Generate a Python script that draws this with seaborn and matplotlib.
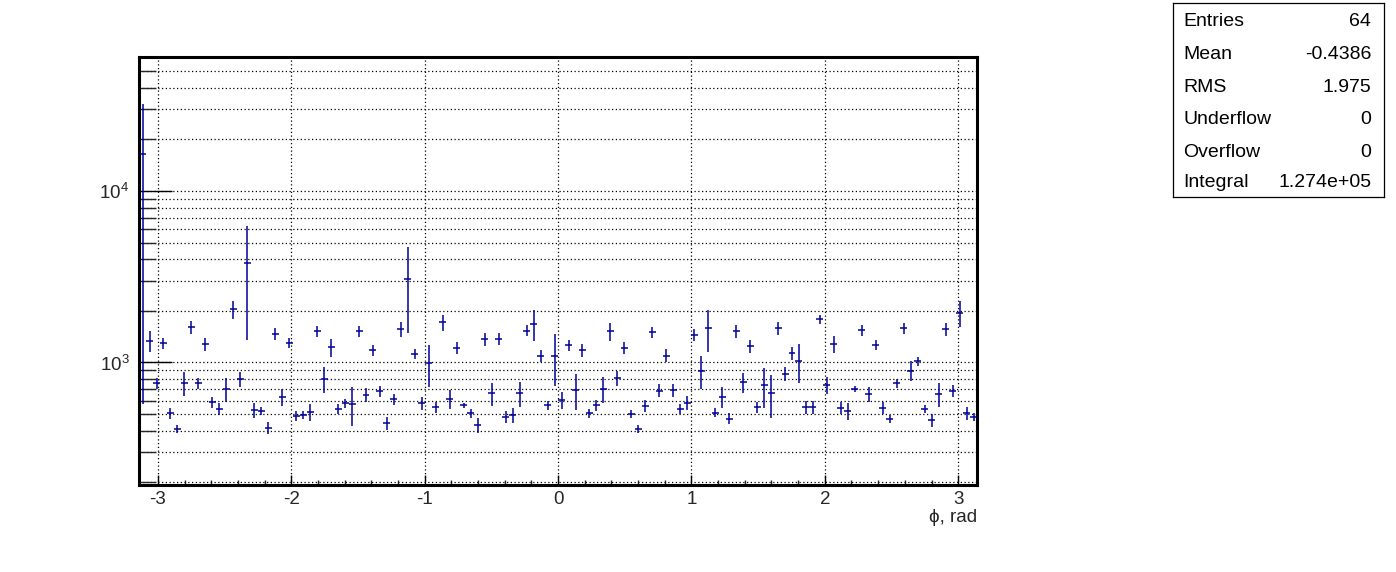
import numpy as np
import matplotlib
matplotlib.use("Agg")
import matplotlib.pyplot as plt
import matplotlib.ticker as mticker
import seaborn as sns

# phi histogram, 120 bins over [-pi, pi]
n_bins = 120
phi_min, phi_max = -np.pi, np.pi

counts = [16370, 1335, 756, 1295, 506, 409, 756, 1604, 756, 1277,
          586, 538, 701, 2042, 801, 3816, 528, 521, 417, 1466,
          630, 1299, 488, 496, 514, 1520, 801, 1226, 536, 578,
          570, 1520, 647, 1178, 682, 442, 612, 1566, 3080, 1121,
          578, 993, 548, 1715, 612, 1219, 563, 506, 432, 1366,
          661, 1377, 481, 494, 661, 1533, 1677, 1096, 563, 1096,
          604, 1265, 692, 1178, 506, 563, 703, 1520, 809, 1219,
          500, 408, 558, 1500, 685, 1096, 692, 536, 583, 1446,
          896, 1583, 509, 632, 470, 1520, 766, 1243, 548, 736,
          661, 1583, 857, 1136, 1020, 548, 548, 1786, 739, 1282,
          545, 521, 703, 1541, 655, 1265, 545, 467, 756, 1583,
          896, 1016, 536, 462, 655, 1562, 685, 1944, 506, 483]

errors = [15800, 185, 55, 95, 37, 20, 118, 140, 55, 114,
          41, 42, 113, 250, 77, 2460, 51, 30, 35, 120,
          70, 90, 35, 25, 57, 120, 138, 150, 35, 35,
          145, 120, 62, 90, 50, 40, 45, 150, 1600, 70,
          50, 270, 40, 180, 76, 95, 20, 32, 42, 122,
          103, 110, 39, 50, 108, 110, 344, 90, 35, 370,
          70, 95, 163, 95, 32, 45, 122, 185, 80, 100,
          25, 22, 45, 120, 60, 95, 60, 35, 55, 120,
          197, 433, 30, 86, 35, 140, 105, 110, 40, 190,
          185, 130, 80, 100, 266, 45, 50, 115, 80, 150,
          45, 57, 30, 110, 65, 85, 45, 25, 50, 110,
          120, 60, 30, 40, 102, 130, 55, 340, 45, 25]

stat_labels = ["Entries", "Mean", "RMS", "Underflow", "Overflow", "Integral"]
stat_values = ["64", "-0.4386", "1.975", "0", "0", "1.274e+05"]

sns.set_theme(style="white")
plt.rcParams["font.family"] = ["Liberation Sans", "DejaVu Sans"]
plt.rcParams["mathtext.fontset"] = "custom"
plt.rcParams["mathtext.rm"] = "Liberation Sans"
plt.rcParams["mathtext.it"] = "Liberation Sans:italic"
plt.rcParams["axes.unicode_minus"] = False

col = "#000099"

fig = plt.figure(figsize=(13.96, 5.72), dpi=100)
ax = fig.add_axes([0.0996, 0.1521, 0.6003, 0.7483])

edges = np.linspace(phi_min, phi_max, n_bins + 1)
centers = 0.5 * (edges[:-1] + edges[1:])
half_w = 0.5 * (edges[1] - edges[0])

ax.errorbar(centers, counts, xerr=half_w, yerr=errors, fmt="none",
            ecolor=col, elinewidth=1.1, capsize=0, zorder=3)

ax.set_yscale("log")
ax.set_xlim(phi_min, phi_max)
ax.set_ylim(193, 60400)

ax.xaxis.set_major_locator(mticker.MultipleLocator(1))
ax.xaxis.set_minor_locator(mticker.MultipleLocator(0.2))
ax.yaxis.set_major_locator(mticker.LogLocator(base=10))
ax.yaxis.set_minor_locator(mticker.LogLocator(base=10, subs=np.arange(2, 10)))
ax.yaxis.set_minor_formatter(mticker.NullFormatter())

ax.tick_params(axis="x", which="major", direction="in", length=7, width=1,
               labelsize=13.5, pad=4, color="black", bottom=True)
ax.tick_params(axis="x", which="minor", direction="in", length=3.5, width=1,
               bottom=True)
ax.tick_params(axis="y", which="major", direction="in", length=24, width=1,
               labelsize=13.5, pad=7, color="black", left=True)
ax.tick_params(axis="y", which="minor", direction="in", length=12, width=1,
               left=True)

ax.grid(True, which="major", axis="x", color="black", linestyle=(0, (1, 2)),
        linewidth=0.9)
ax.grid(True, which="both", axis="y", color="black", linestyle=(0, (1, 2)),
        linewidth=0.9)
ax.set_axisbelow(True)

for s in ax.spines.values():
    s.set_color("black")
    s.set_linewidth(2.2)

ax.set_xlabel("\u03d5, rad", fontsize=13.5, loc="right", labelpad=1)

# stats box
sb = fig.add_axes([0.8403, 0.6556, 0.1511, 0.339])
sb.set_xticks([])
sb.set_yticks([])
for s in sb.spines.values():
    s.set_color("black")
    s.set_linewidth(0.9)
row_y = [21, 54, 87, 119, 152, 182]
for lab, val, yp in zip(stat_labels, stat_values, row_y):
    yf = 1 - (yp - 3) / 194.0
    sb.text(0.05, yf, lab, transform=sb.transAxes, ha="left", va="center",
            fontsize=14, color="black")
    sb.text(0.94, yf, val, transform=sb.transAxes, ha="right", va="center",
            fontsize=14, color="black")

fig.savefig("out.png", dpi=100)
